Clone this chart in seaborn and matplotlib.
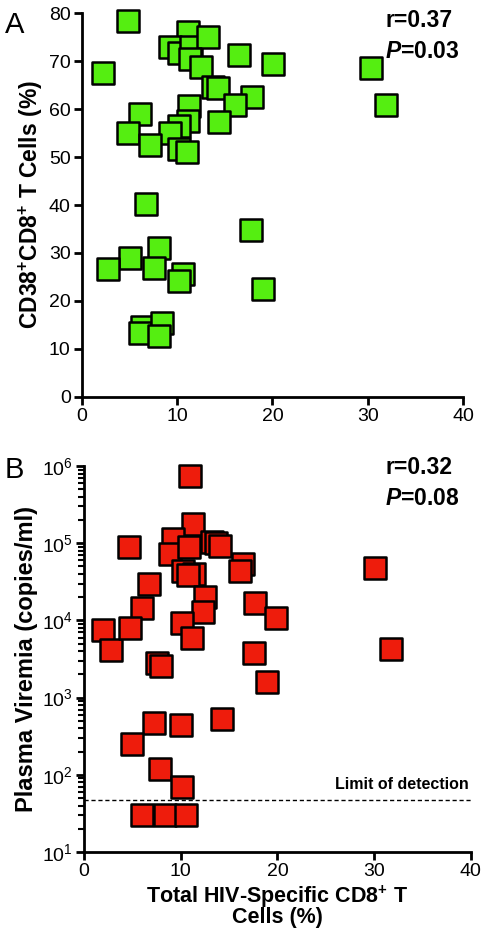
import numpy as np
import pandas as pd
import matplotlib
matplotlib.use('Agg')
import matplotlib.pyplot as plt
import seaborn as sns

# panel A: total HIV-specific CD8+ (%) vs CD38+CD8+ T cells (%)
a_x = [4.8, 2.2, 11.1, 9.2, 10.2, 11.5, 13.2, 11.4, 12.5, 16.5, 20.1, 30.3, 31.9,
       13.8, 14.3, 17.8, 16.1, 11.2, 14.4, 11.1, 10.2, 6.1, 4.8, 9.2, 7.2, 10.2, 11.0,
       6.7, 17.7, 8.1, 5.1, 2.8, 7.6, 10.6, 10.2, 19.0, 6.3, 6.1, 8.4, 8.1]
a_y = [78.3, 67.5, 76.0, 72.9, 71.7, 73.0, 75.0, 70.4, 68.8, 71.2, 69.4, 68.6, 60.8,
       64.5, 64.4, 62.5, 60.8, 60.6, 57.3, 57.5, 56.5, 59.0, 55.0, 55.0, 52.5, 51.7, 51.0,
       40.2, 34.8, 31.0, 29.0, 26.7, 26.9, 25.6, 24.2, 22.4, 14.6, 13.3, 15.5, 12.7]

# panel B: total HIV-specific CD8+ (%) vs plasma viremia (copies/ml)
b_x = [11.0, 11.3, 9.2, 4.7, 8.9, 10.85, 13.2, 13.6, 14.1, 10.2, 11.4, 10.8, 16.4,
       16.1, 6.7, 30.1, 12.5, 17.7, 6.0, 12.3,
       2.0, 2.8, 4.75, 10.1, 11.2, 19.8, 31.7, 17.6, 7.5, 8.0, 18.9, 7.2, 10.0, 14.3, 5.0,
       7.9, 10.1, 6.0, 8.4, 10.5]
b_y = [7.4e5, 1.75e5, 1.13e5, 8.9e4, 7.3e4, 8.9e4, 1.05e5, 1.0e5, 9.1e4, 4.4e4, 4.0e4, 3.9e4, 5.4e4,
       4.4e4, 3.0e4, 4.8e4, 2.0e4, 1.7e4, 1.45e4, 1.3e4,
       7.5e3, 4.2e3, 7.9e3, 9.3e3, 5.9e3, 1.07e4, 4.3e3, 3.8e3, 2.8e3, 2.6e3, 1.6e3, 470, 440, 525, 250,
       118, 69, 30, 30, 30]
detect_limit = 47

sns.set_style('ticks')
plt.rcParams['font.family'] = ['Liberation Sans', 'DejaVu Sans']
plt.rcParams['mathtext.fontset'] = 'custom'
plt.rcParams['mathtext.rm'] = 'Liberation Sans'
plt.rcParams['mathtext.it'] = 'Liberation Sans:italic:bold'
plt.rcParams['mathtext.bf'] = 'Liberation Sans:bold'
plt.rcParams['text.color'] = 'black'
plt.rcParams['axes.labelcolor'] = 'black'
plt.rcParams['xtick.color'] = 'black'
plt.rcParams['ytick.color'] = 'black'
plt.rcParams['axes.edgecolor'] = 'black'

fig = plt.figure(figsize=(4.84, 9.34), dpi=100)
ax1 = fig.add_axes([0.169, 0.575, 0.788, 0.411])
ax2 = fig.add_axes([0.1736, 0.0878, 0.7994, 0.4132])

dfa = pd.DataFrame({'x': a_x, 'y': a_y})
dfb = pd.DataFrame({'x': b_x, 'y': b_y})

sns.scatterplot(data=dfa, x='x', y='y', ax=ax1, marker='s', s=230,
                color='#55ee11', edgecolor='black', linewidth=1.8, zorder=3, clip_on=False)
sns.scatterplot(data=dfb, x='x', y='y', ax=ax2, marker='s', s=230,
                color='#ee1c0c', edgecolor='black', linewidth=1.8, zorder=3, clip_on=False)

for ax in (ax1, ax2):
    sns.despine(ax=ax)
    ax.spines['left'].set_linewidth(2)
    ax.spines['bottom'].set_linewidth(2)
    ax.tick_params(width=2, length=6, labelsize=14, pad=2)
    ax.set_xlim(0, 40)
    ax.set_xticks([0, 10, 20, 30, 40])

ax1.set_ylim(0, 80)
ax1.set_yticks(range(0, 81, 10))
ax1.set_xlabel('')
ax1.set_ylabel(r'CD38$^{\mathbf{+}}$CD8$^{\mathbf{+}}$ T Cells (%)',
               fontsize=16.5, fontweight='bold', labelpad=3)

ax2.set_yscale('log')
ax2.set_ylim(10, 1e6)
ax2.tick_params(axis='y', which='minor', width=1.5, length=4)
ax2.axhline(detect_limit, color='black', linestyle=(0, (3, 2)), linewidth=1)
ax2.text(39.8, 60, 'Limit of detection', ha='right', va='bottom',
         fontsize=11.5, fontweight='bold')
ax2.set_ylabel('Plasma Viremia (copies/ml)', fontsize=17, fontweight='bold', labelpad=3)
ax2.set_xlabel('Total HIV-Specific CD8$^{\\mathbf{+}}$ T\nCells (%)',
               fontsize=15.5, fontweight='bold', linespacing=0.8)
ax2.xaxis.set_label_coords(0.5, -0.082)

fig.text(0.01, 0.988, 'A', fontsize=21, va='top')
fig.text(0.01, 0.512, 'B', fontsize=21, va='top')

fig.text(0.935, 0.99, 'r=0.37', fontsize=16.5, fontweight='bold', ha='right', va='top')
fig.text(0.95, 0.957, '$\\mathit{P}$=0.03', fontsize=16.5, fontweight='bold', ha='right', va='top')
fig.text(0.935, 0.512, 'r=0.32', fontsize=16.5, fontweight='bold', ha='right', va='top')
fig.text(0.95, 0.479, '$\\mathit{P}$=0.08', fontsize=16.5, fontweight='bold', ha='right', va='top')

fig.savefig('out.png', dpi=100)
